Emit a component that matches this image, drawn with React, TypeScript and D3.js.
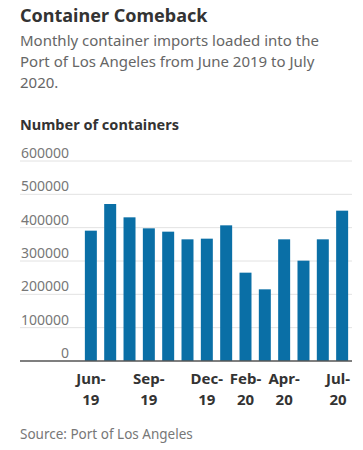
import * as d3 from 'd3';
import React, { useRef, useEffect } from 'react';

// monthly imports, Jun 2019 - Jul 2020
const months = ['Jun-19', 'Jul-19', 'Aug-19', 'Sep-19', 'Oct-19', 'Nov-19', 'Dec-19',
    'Jan-20', 'Feb-20', 'Mar-20', 'Apr-20', 'May-20', 'Jun-20', 'Jul-20'];
const containers = [391000, 471000, 431000, 398000, 388000, 365000, 367000,
    407000, 265000, 215000, 365000, 301000, 365000, 451000];
const tickValues = [0, 100000, 200000, 300000, 400000, 500000, 600000];
const labeledMonths = ['Jun-19', 'Sep-19', 'Dec-19', 'Feb-20', 'Apr-20', 'Jul-20'];

const subtitle = [
    'Monthly container imports loaded into the',
    'Port of Los Angeles from June 2019 to July',
    '2020.'
];

const width = 363;
const height = 450;
const font = "'Noto Sans', sans-serif";

function App() {
    const ref = useRef();

    useEffect(() => {
        const svg = d3.select(ref.current);
        svg.selectAll('*').remove();

        svg.append('rect').attr('width', width).attr('height', height).attr('fill', '#fff');

        svg.append('text')
            .attr('x', 20).attr('y', 22)
            .attr('font-family', font).attr('font-size', 18).attr('font-weight', 700)
            .attr('fill', '#333')
            .text('Container Comeback');

        svg.append('g').selectAll('text').data(subtitle).enter()
            .append('text')
            .attr('x', 20).attr('y', (d, i) => 46 + i * 21)
            .attr('font-family', font).attr('font-size', 15)
            .attr('fill', '#666')
            .text(d => d);

        svg.append('text')
            .attr('x', 20).attr('y', 130)
            .attr('font-family', font).attr('font-size', 14.5).attr('font-weight', 700)
            .attr('fill', '#333')
            .text('Number of containers');

        const x = d3.scaleBand().domain(months).range([81, 352]).paddingInner(0.38).paddingOuter(0.2);
        const y = d3.scaleLinear().domain([0, 600000]).range([361, 161]);

        // grid + tick labels
        const grid = svg.append('g');
        grid.selectAll('line').data(tickValues.filter(d => d > 0)).enter()
            .append('line')
            .attr('x1', 20).attr('x2', 352)
            .attr('y1', d => y(d)).attr('y2', d => y(d))
            .attr('stroke', '#e2e2e2').attr('stroke-width', 1);
        grid.selectAll('text').data(tickValues).enter()
            .append('text')
            .attr('x', 69).attr('y', d => y(d) - 3)
            .attr('text-anchor', 'end')
            .attr('font-family', font).attr('font-size', 14)
            .attr('fill', '#777')
            .text(d => d);

        svg.append('g').selectAll('rect').data(containers).enter()
            .append('rect')
            .attr('x', (d, i) => x(months[i]))
            .attr('y', d => y(d))
            .attr('width', x.bandwidth())
            .attr('height', d => y(0) - y(d))
            .attr('fill', '#0a6fa6');

        svg.append('line')
            .attr('x1', 20).attr('x2', 352)
            .attr('y1', y(0)).attr('y2', y(0))
            .attr('stroke', '#555').attr('stroke-width', 1.5);

        // two-line month labels, last one pulled in from the edge
        const labelX = d => Math.min(x(d) + x.bandwidth() / 2, width - 25);
        const xl = svg.append('g')
            .attr('font-family', font).attr('font-size', 15).attr('font-weight', 700)
            .attr('fill', '#333').attr('text-anchor', 'middle');
        xl.selectAll('text.mon').data(labeledMonths).enter()
            .append('text').attr('class', 'mon')
            .attr('x', labelX).attr('y', 384)
            .text(d => d.split('-')[0] + '-');
        xl.selectAll('text.yr').data(labeledMonths).enter()
            .append('text').attr('class', 'yr')
            .attr('x', labelX).attr('y', 405)
            .text(d => d.split('-')[1]);

        svg.append('text')
            .attr('x', 20).attr('y', 439)
            .attr('font-family', font).attr('font-size', 13.5)
            .attr('fill', '#777')
            .text('Source: Port of Los Angeles');
    }, []);

    return (
        <div style={{ position: 'absolute', left: 0, top: 0 }}>
            <svg ref={ref} width={width} height={height} style={{ display: 'block' }}></svg>
        </div>
    );
}

export default App;
